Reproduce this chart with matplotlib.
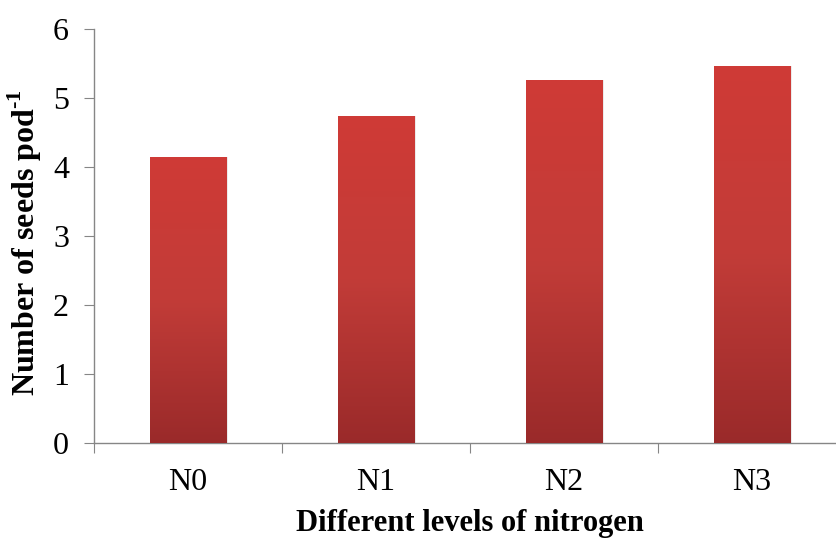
import numpy as np
import matplotlib
matplotlib.use("Agg")
from matplotlib import pyplot as plt
from matplotlib.colors import LinearSegmentedColormap

plt.rcParams['font.family'] = ['Liberation Serif', 'DejaVu Serif']
plt.rcParams['mathtext.fontset'] = 'custom'
plt.rcParams['mathtext.rm'] = 'Liberation Serif'
plt.rcParams['mathtext.bf'] = 'Liberation Serif:bold'
plt.rcParams['axes.unicode_minus'] = False

# nitrogen levels and mean seed count per pod
levels = ['N0', 'N1', 'N2', 'N3']
seeds = [4.14, 4.74, 5.26, 5.46]

axis_gray = '#868686'
red_grad = LinearSegmentedColormap.from_list('redgrad', ['#9a2a2a', '#c23c38', '#cf3a36'])

W, H = 836, 540
fig = plt.figure(figsize=(W/100, H/100), dpi=100)
ax = fig.add_axes([94/W, 97/H, 752/W, 414/H])

x = np.arange(len(levels))
bars = ax.bar(x, seeds, width=0.405, color='none', zorder=2)

# vertical gradient fill, clipped to each bar
grad = np.linspace(0, 1, 256).reshape(-1, 1)
for b in bars:
    bx, by = b.get_x(), b.get_y()
    w, h = b.get_width(), b.get_height()
    # soft shadow on the right edge
    ax.bar(bx + w/2 + 0.012, h, width=w, color='#000000', alpha=0.08, zorder=1)
    im = ax.imshow(grad, cmap=red_grad, origin='lower', aspect='auto',
                   extent=[bx, bx + w, by, by + h], zorder=3)
    im.set_clip_path(b)

ax.set_xlim(-0.5, 3.5)
ax.set_ylim(0, 6)
ax.set_yticks(range(0, 7))

# category boundaries get tick marks, names sit between them
ax.set_xticks(np.arange(-0.5, 4, 1))
ax.set_xticklabels([])
ax.set_xticks(x, minor=True)
ax.set_xticklabels(levels, minor=True)

for s in ['top', 'right']:
    ax.spines[s].set_visible(False)
for s in ['left', 'bottom']:
    ax.spines[s].set_color(axis_gray)
    ax.spines[s].set_linewidth(1.0)

ax.tick_params(axis='y', which='major', length=7, color=axis_gray, labelsize=23, pad=11)
ax.tick_params(axis='x', which='major', length=7, color=axis_gray)
ax.tick_params(axis='x', which='minor', length=0, labelsize=23, pad=18)

# axis titles placed on the figure
fig.text(470/W, 9/H, 'Different levels of nitrogen', fontsize=22, fontweight='bold',
         ha='center', va='baseline')
fig.text(25/W, 1 - 243/H, 'Number of seeds pod$^{\\mathbf{\u20101}}$', fontsize=23,
         fontweight='bold', rotation=90, ha='center', va='center')

fig.savefig('out.png', dpi=100)
